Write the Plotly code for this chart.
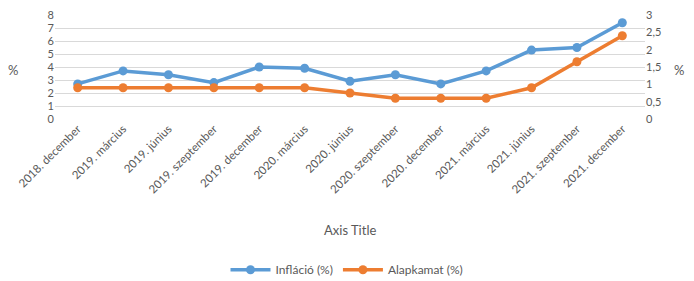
import plotly.graph_objects as go

categories = ["2018. december", "2019. március", "2019. június", "2019. szeptember",
              "2019. december", "2020. március", "2020. június", "2020. szeptember",
              "2020. december", "2021. március", "2021. június", "2021. szeptember",
              "2021. december"]
inflacio = [2.7, 3.7, 3.4, 2.8, 4.0, 3.9, 2.9, 3.4, 2.7, 3.7, 5.3, 5.5, 7.4]
alapkamat = [0.9, 0.9, 0.9, 0.9, 0.9, 0.9, 0.75, 0.6, 0.6, 0.6, 0.9, 1.65, 2.4]
left_ticks = [0, 1, 2, 3, 4, 5, 6, 7, 8]
right_ticks = [0, 0.5, 1, 1.5, 2, 2.5, 3]

blue = "#5B9BD5"
orange = "#ED7D31"
gray = "#595959"
font_family = "Lato, Open Sans, sans-serif"

fig = go.Figure()
fig.add_trace(go.Scatter(x=categories, y=inflacio, name="Infláció (%)",
                         mode="lines+markers", line=dict(color=blue, width=3.5),
                         marker=dict(color=blue, size=9), yaxis="y"))
fig.add_trace(go.Scatter(x=categories, y=alapkamat, name="Alapkamat (%)",
                         mode="lines+markers", line=dict(color=orange, width=3.5),
                         marker=dict(color=orange, size=9), yaxis="y2"))

fig.update_layout(
    width=694, height=281,
    margin=dict(l=55, r=49, t=15, b=162, autoexpand=False),
    paper_bgcolor="white", plot_bgcolor="white",
    separators=", ",
    font=dict(family=font_family, color=gray, size=12),
    showlegend=True,
    legend=dict(orientation="h", x=0.5, xanchor="center", xref="container",
                y=0.04, yanchor="middle", yref="container",
                font=dict(size=12, color=gray), itemwidth=40),
    xaxis=dict(type="category", tickangle=-45, showgrid=False, showline=False,
               zeroline=False, ticks="", tickfont=dict(size=11.5, color=gray),
               range=[-0.5, len(categories) - 0.5], automargin=False),
    yaxis=dict(range=[0, 8], tickvals=left_ticks, showgrid=True, gridcolor="#D9D9D9",
               gridwidth=1, zeroline=False, showline=False, ticks="",
               tickfont=dict(size=11, color=gray), automargin=False),
    yaxis2=dict(range=[0, 3], tickvals=right_ticks, overlaying="y", side="right",
                showgrid=False, zeroline=False, showline=False, ticks="",
                tickformat=".1~f", tickfont=dict(size=11, color=gray), automargin=False),
    annotations=[
        dict(text="%", xref="paper", yref="paper", x=-0.06, y=0.47, xanchor="right",
             yanchor="middle", showarrow=False, font=dict(size=13, color=gray)),
        dict(text="%", xref="paper", yref="paper", x=1.07, y=0.47, xanchor="right",
             yanchor="middle", showarrow=False, font=dict(size=13, color=gray)),
        dict(text="Axis Title", xref="paper", yref="paper", x=0.5, y=-1.067,
             xanchor="center", yanchor="middle", showarrow=False,
             font=dict(size=13, color=gray)),
    ],
)

fig.write_html("out.html", config={"displayModeBar": False},
               post_script="document.body.style.margin='0px';document.body.style.overflow='hidden';")
